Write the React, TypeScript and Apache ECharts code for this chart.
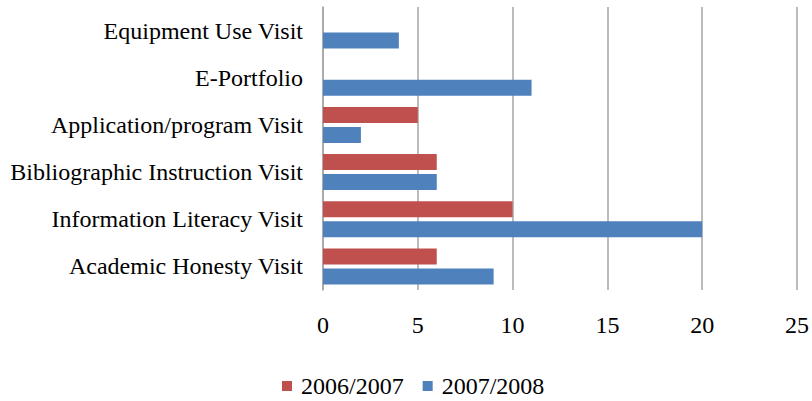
import React, { useEffect, useRef } from "react";
import * as echarts from "echarts";

const categories = [
  "Academic Honesty Visit",
  "Information Literacy Visit",
  "Bibliographic Instruction Visit",
  "Application/program Visit",
  "E-Portfolio",
  "Equipment Use Visit",
];
const series2006 = [6, 10, 6, 5, 0, 0];
const series2007 = [9, 20, 6, 2, 11, 4];
const seriesNames = ["2006/2007", "2007/2008"];

export default function App() {
  const ref = useRef<HTMLDivElement>(null);
  useEffect(() => {
    if (!ref.current) return;
    const chart = echarts.init(ref.current, null, { renderer: "svg" });
    const font = "Times New Roman, Liberation Serif, DejaVu Serif, serif";
    chart.setOption({
      animation: false,
      backgroundColor: "#ffffff",
      textStyle: { fontFamily: font },
      grid: { left: 323, right: 15, top: 7, bottom: 111, containLabel: false },
      legend: {
        data: seriesNames,
        top: 369,
        left: 277,
        itemWidth: 10,
        itemHeight: 10,
        itemGap: 19,
        icon: "rect",
        textStyle: { fontFamily: font, fontSize: 24, color: "#000", padding: [0, 0, 0, 4] },
      },
      xAxis: {
        type: "value",
        min: 0,
        max: 25,
        interval: 5,
        axisLine: { show: false },
        axisTick: { show: false },
        axisLabel: { margin: 23, fontFamily: font, fontSize: 24, color: "#000" },
        splitLine: { show: true, lineStyle: { color: "#a6a6a6", width: 1.5 } },
      },
      yAxis: {
        type: "category",
        data: categories,
        axisLine: { show: true, lineStyle: { color: "#a6a6a6", width: 1.5 } },
        axisTick: { show: false },
        axisLabel: { margin: 20, fontFamily: font, fontSize: 24, color: "#000" },
        splitLine: { show: false },
      },
      series: [
        {
          name: seriesNames[0],
          type: "bar",
          data: series2006,
          barWidth: 16,
          barGap: "25%",
          itemStyle: { color: "#C0504D" },
        },
        {
          name: seriesNames[1],
          type: "bar",
          data: series2007,
          barWidth: 16,
          barGap: "25%",
          itemStyle: { color: "#4F81BD" },
        },
      ],
    });
    return () => chart.dispose();
  }, []);
  return (
    <div
      ref={ref}
      style={{ position: "fixed", left: 0, top: 0, width: 812, height: 401 }}
    />
  );
}
